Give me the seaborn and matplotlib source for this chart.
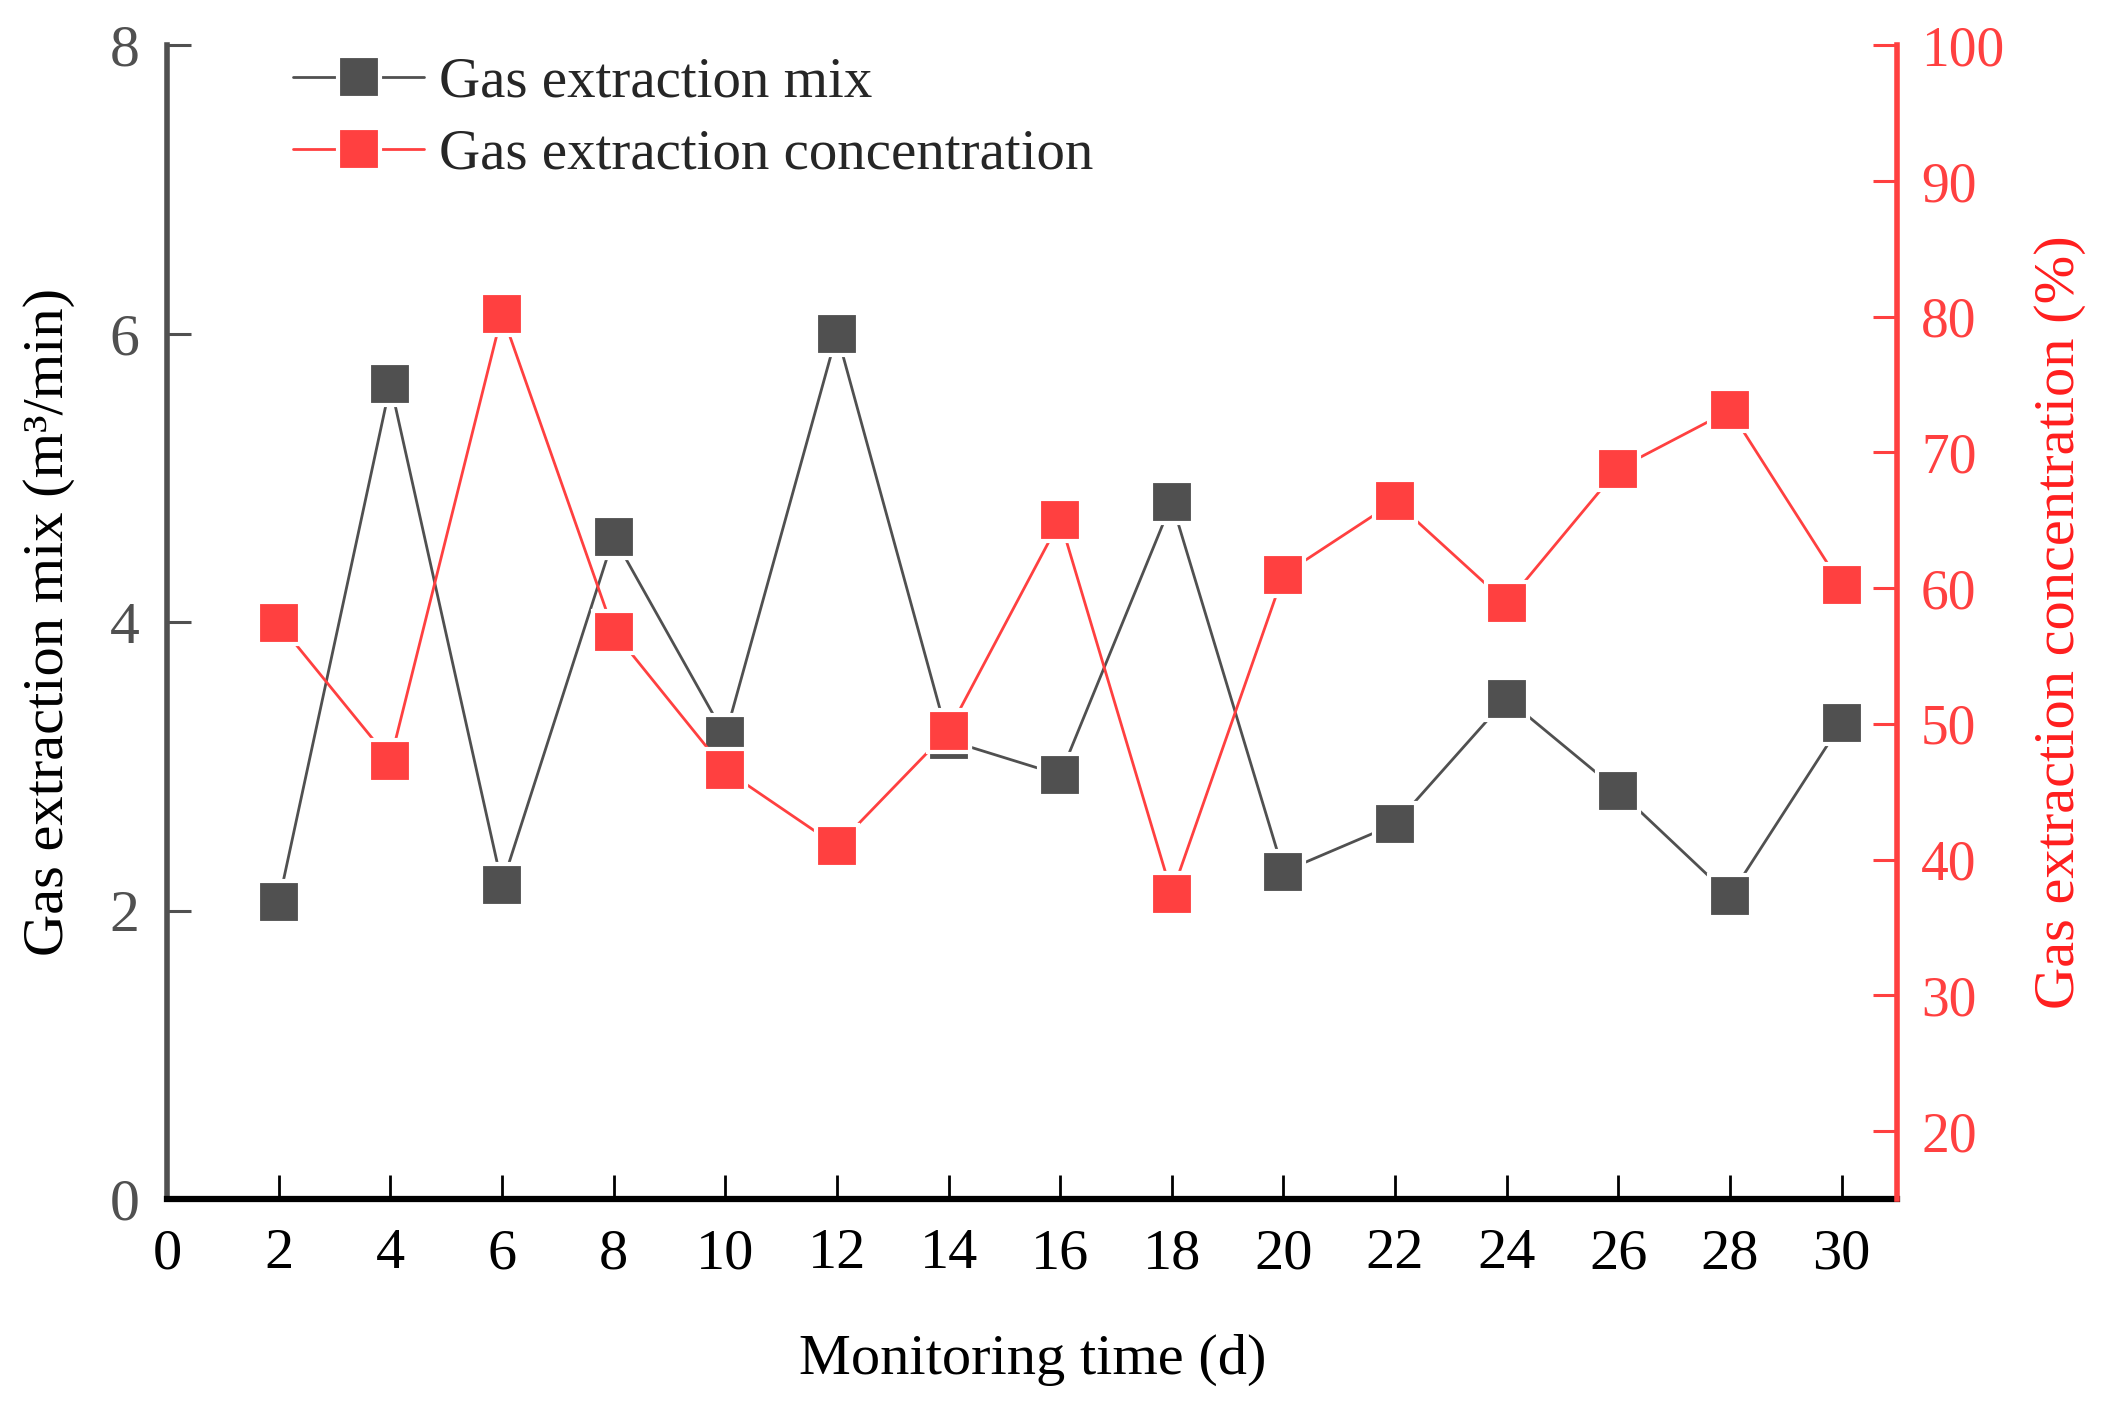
import matplotlib
matplotlib.use('Agg')
import matplotlib.pyplot as plt
import seaborn as sns
from matplotlib.lines import Line2D

# valores
dias = [2, 4, 6, 8, 10, 12, 14, 16, 18, 20, 22, 24, 26, 28, 30]
vazao_mix = [2.06, 5.65, 2.18, 4.59, 3.21, 6.00, 3.18, 2.94, 4.83, 2.27, 2.60, 3.47, 2.83, 2.10, 3.30]
concentracao = [57.4, 47.3, 80.2, 56.8, 46.6, 41.0, 49.5, 65.0, 37.5, 61.0, 66.4, 58.9, 68.8, 73.1, 60.2]

x_ticks = list(range(0, 31, 2))
y_esq_ticks = [0, 2, 4, 6, 8]
y_dir_ticks = list(range(20, 101, 10))

nome_mix = 'Gas extraction mix'
nome_conc = 'Gas extraction concentration'

# estilo
sns.set_theme(style='ticks')
plt.rcParams['font.family'] = ['Liberation Serif', 'DejaVu Serif']

cor_mix = '#505050'
cor_conc = '#FF4040'
estilo_linha = dict(lw=2, marker='s', markersize=30, markeredgecolor='white', markeredgewidth=3)

fig = plt.figure(figsize=(21.16, 14.15), dpi=100)
ax = fig.add_axes([0.079, 0.1527, 0.8177, 0.8153])
ax2 = ax.twinx()

# séries
sns.lineplot(x=dias, y=vazao_mix, ax=ax, color=cor_mix, **estilo_linha)
sns.lineplot(x=dias, y=concentracao, ax=ax2, color=cor_conc, **estilo_linha)

# eixos
ax.set_xlim(0, 31)
ax.set_ylim(0, 8)
ax2.set_ylim(15, 100)
ax.set_xticks(x_ticks)
ax.set_yticks(y_esq_ticks)
ax2.set_yticks(y_dir_ticks)

ax.spines['top'].set_visible(False)
ax.spines['right'].set_visible(False)
ax.spines['left'].set_color(cor_mix)
ax.spines['left'].set_linewidth(4)
ax.spines['bottom'].set_color('black')
ax.spines['bottom'].set_linewidth(4.5)
for s in ['top', 'left', 'bottom']:
    ax2.spines[s].set_visible(False)
ax2.spines['right'].set_color(cor_conc)
ax2.spines['right'].set_linewidth(4)

ax.tick_params(axis='x', bottom=True, direction='in', length=17, width=2,
               color='black', labelcolor='black', labelsize=42, pad=21)
ax.tick_params(axis='y', left=True, direction='in', length=17, width=2.2,
               color=cor_mix, labelcolor=cor_mix, labelsize=43, pad=20)
ax2.tick_params(axis='y', right=True, direction='in', length=17, width=2.2,
                color=cor_conc, labelcolor=cor_conc, labelsize=40, pad=17)

# rótulos
ax.set_xlabel('Monitoring time (d)', fontsize=42, color='black')
ax.set_ylabel('Gas extraction mix (m³/min)', fontsize=42, color='black')
ax2.set_ylabel('Gas extraction concentration (%)', fontsize=42, color='#FF1E1E')
ax.xaxis.set_label_coords(0.5, -0.117)
ax.yaxis.set_label_coords(-0.053, 0.5)
ax2.yaxis.set_label_coords(1.079, 0.5)

# legenda
alcas = [Line2D([], [], color=cor_mix, **estilo_linha),
         Line2D([], [], color=cor_conc, **estilo_linha)]
ax2.legend(alcas, [nome_mix, nome_conc], loc='upper left', bbox_to_anchor=(0.073, 0.99),
           frameon=False, fontsize=41, handlelength=2.3, handletextpad=0.25,
           labelspacing=0.35, borderaxespad=0, borderpad=0)

fig.savefig('out.png', dpi=100)
